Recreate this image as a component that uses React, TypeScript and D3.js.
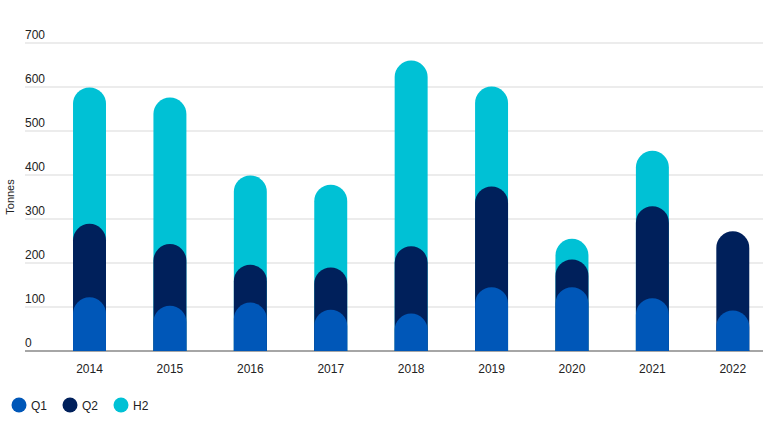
import React from "react";
import * as d3 from "d3";

const years = ["2014", "2015", "2016", "2017", "2018", "2019", "2020", "2021", "2022"];
const q1 = [122, 103, 110, 94, 85, 145, 145, 120, 92];
const q2 = [167, 140, 86, 96, 153, 229, 63, 209, 180];
const h2 = [310, 333, 203, 188, 422, 227, 47, 126, 0];
const yTicks = [0, 100, 200, 300, 400, 500, 600, 700];
const seriesNames = ["Q1", "Q2", "H2"];
const seriesColors = ["#0057b8", "#00205b", "#00c1d5"];

const W = 768;
const H = 422;
const FONT = "'Liberation Sans', Arial, sans-serif";

function roundTopPath(x: number, w: number, yTop: number, yBase: number): string {
  const r = w / 2;
  const top = Math.min(yTop + r, yBase);
  return `M${x},${yBase} L${x},${top} A${r},${r} 0 0 1 ${x + w},${top} L${x + w},${yBase} Z`;
}

export default function App() {
  const x = d3.scaleBand<string>().domain(years).range([49.3, 773]).paddingInner(0.59).paddingOuter(0.295);
  const y = d3.scaleLinear().domain([0, 700]).range([351, 43]);
  const bw = x.bandwidth();

  const cum = years.map((_, i) => [q1[i], q1[i] + q2[i], q1[i] + q2[i] + h2[i]]);

  return (
    <svg width={W} height={H} style={{ position: "absolute", left: 0, top: 0, fontFamily: FONT }}>
      <rect width={W} height={H} fill="#fff" />
      {yTicks.map((t) => (
        <g key={t}>
          <line
            x1={25}
            x2={763}
            y1={y(t)}
            y2={y(t)}
            stroke={t === 0 ? "#a6a6a6" : "#d9d9d9"}
            strokeWidth={t === 0 ? 2 : 1}
          />
          <text x={25} y={y(t) - 4} fontSize={12} fill="#222">
            {t}
          </text>
        </g>
      ))}
      <text
        transform={`translate(14,${y(350) + 0}) rotate(-90)`}
        textAnchor="middle"
        fontSize={11}
        fill="#222"
      >
        Tonnes
      </text>
      {years.map((yr, i) => {
        const bx = x(yr) as number;
        return (
          <g key={yr}>
            {[2, 1, 0].map((s) => {
              const v = cum[i][s];
              const segVal = s === 0 ? q1[i] : s === 1 ? q2[i] : h2[i];
              if (segVal <= 0) return null;
              return <path key={s} d={roundTopPath(bx, bw, y(v), y(0))} fill={seriesColors[s]} />;
            })}
            <text x={bx + bw / 2} y={373} textAnchor="middle" fontSize={12} fill="#222">
              {yr}
            </text>
          </g>
        );
      })}
      {seriesNames.map((n, i) => (
        <g key={n} transform={`translate(${19 + i * 51},405)`}>
          <circle r={7.5} fill={seriesColors[i]} />
          <text x={12} y={4.5} fontSize={12} fill="#222">
            {n}
          </text>
        </g>
      ))}
    </svg>
  );
}
